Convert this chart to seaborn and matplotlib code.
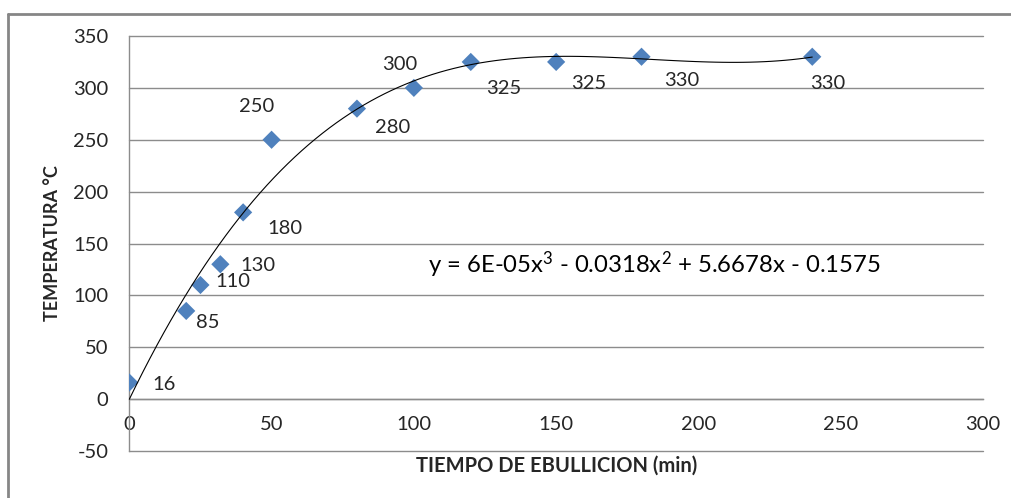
import numpy as np
import pandas as pd
import matplotlib
matplotlib.use("Agg")
import matplotlib.pyplot as plt
from matplotlib.lines import Line2D
import seaborn as sns

# Boiling time (min) and measured temperature (°C)
tiempo = [0, 20, 25, 32, 40, 50, 80, 100, 120, 150, 180, 240]
temperatura = [16, 85, 110, 130, 180, 250, 280, 300, 325, 325, 330, 330]
x_ticks = [0, 50, 100, 150, 200, 250, 300]
y_ticks = [-50, 0, 50, 100, 150, 200, 250, 300, 350]
ecuacion = r"y = 6E-05x$^{3}$ - 0.0318x$^{2}$ + 5.6678x - 0.1575"

# Label offsets (pixels) for each data label
label_offsets = [(35, -2), (22, -12), (32, 4), (38, -1), (42, -16), (-15, 33),
                 (36, -19), (-14, 23), (33, -27), (33, -22), (40, -24), (15, -27)]

df = pd.DataFrame({"tiempo": tiempo, "temperatura": temperatura})

sns.set_style("white")
plt.rcParams["font.family"] = ["Lato", "DejaVu Sans"]
plt.rcParams["mathtext.fontset"] = "custom"
plt.rcParams["mathtext.rm"] = "Lato"
plt.rcParams["mathtext.it"] = "Lato"
plt.rcParams["mathtext.default"] = "regular"

W, H = 1011, 498
fig = plt.figure(figsize=(W / 100, H / 100), dpi=100)
left, right, top, bottom = 129.3, 983, 36, 451
ax = fig.add_axes([left / W, 1 - bottom / H, (right - left) / W, (bottom - top) / H])

grid_col = "#8c8c8c"
text_col = "#262626"
blue = "#4F81BD"

# Chart area border (top and left edges inside the canvas)
frame_kw = dict(transform=fig.transFigure, color="#868686", linewidth=2)
fig.lines.append(Line2D([8 / W, 1.0], [1 - 14 / H, 1 - 14 / H], **frame_kw))
fig.lines.append(Line2D([8 / W, 8 / W], [0.0, 1 - 14 / H], **frame_kw))

sns.scatterplot(data=df, x="tiempo", y="temperatura", marker="D", s=86,
                color=blue, edgecolor="none", linewidth=0, ax=ax, zorder=3)
sns.regplot(data=df, x="tiempo", y="temperatura", order=3, ci=None, scatter=False,
            truncate=True, line_kws={"color": "black", "linewidth": 0.8, "zorder": 4}, ax=ax)

ax.set_xlim(0, 300)
ax.set_ylim(-50, 350)
ax.set_xticks(x_ticks)
ax.set_yticks(y_ticks)
ax.set_xticklabels([str(v) for v in x_ticks])
ax.set_yticklabels([str(v) for v in y_ticks])

ax.grid(axis="y", color=grid_col, linewidth=1)
ax.grid(axis="x", visible=False)
for gl in ax.get_ygridlines():
    gl.set_clip_on(False)

for side in ["top", "right"]:
    ax.spines[side].set_visible(False)
ax.spines["bottom"].set_position(("data", 0))
ax.spines["bottom"].set_color(grid_col)
ax.spines["left"].set_color(grid_col)
ax.spines["bottom"].set_linewidth(1)
ax.spines["left"].set_linewidth(1)

ax.tick_params(axis="x", length=0, pad=12, labelsize=14.5, labelcolor=text_col)
ax.tick_params(axis="y", length=0, pad=15, labelsize=14.5, labelcolor=text_col)

ax.set_xlabel("TIEMPO DE EBULLICION (min)", fontsize=14.5, fontweight="bold", color=text_col)
ax.set_ylabel("TEMPERATURA °C", fontsize=13, fontweight="bold", color=text_col)
ax.xaxis.set_label_coords(0.5, -0.036)
ax.xaxis.label.set_va("center")
ax.yaxis.set_label_coords(-0.0894, 0.5)
ax.yaxis.label.set_va("center")

for xv, yv, (dx, dy) in zip(tiempo, temperatura, label_offsets):
    ax.annotate(str(yv), (xv, yv), xytext=(dx, dy), textcoords="offset pixels",
                ha="center", va="center", fontsize=14.5, color=text_col, zorder=5)

ax.text(105.0, 130, ecuacion, ha="left", va="center", fontsize=17.2, color="black")

fig.savefig("out.png", dpi=100)
